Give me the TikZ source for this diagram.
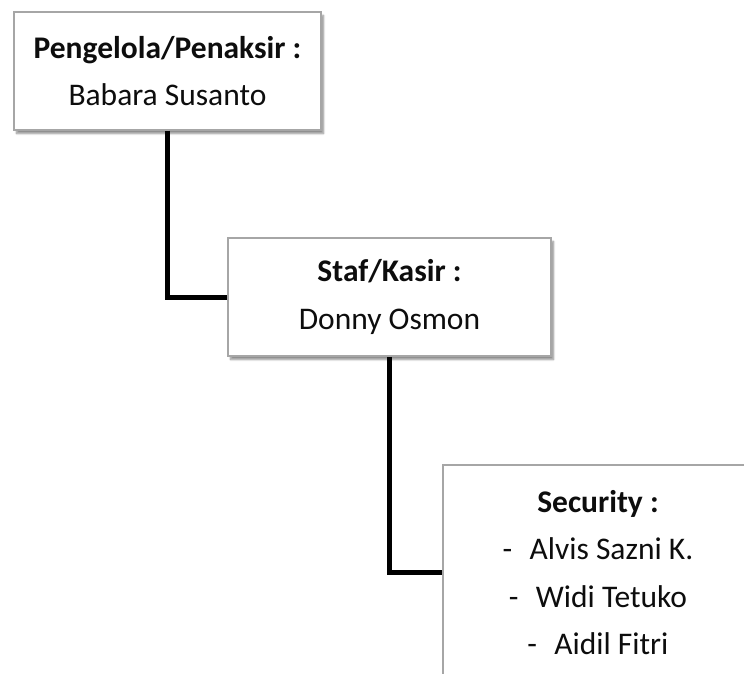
\documentclass[tikz,border=0pt]{standalone}
\usepackage{fontspec}
\setmainfont{Carlito}
\usetikzlibrary{positioning,shadows.blur}
\definecolor{frame}{HTML}{A6A6A6}
\definecolor{ink}{HTML}{0D0D0D}

\begin{document}
\begin{tikzpicture}[x=1pt,y=-1pt,
    box/.style={draw=frame, line width=1.5pt, fill=white, text=ink, align=center,
        inner sep=0pt, font=\fontsize{31.5}{47.5}\selectfont,
        blur shadow={shadow xshift=2.5pt, shadow yshift=-3.5pt, shadow blur steps=6, shadow opacity=45}},
    link/.style={line width=5pt, black}]
    \useasboundingbox (0,0) rectangle (744,674);
    \clip (0,0) rectangle (744,674);

    % Boxes
    \node[box, minimum width=307pt, minimum height=118pt] (penaksir) at (167.5,71)
        {\textbf{Pengelola/Penaksir :}\\Babara Susanto};
    \node[box, minimum width=323pt, minimum height=118pt] (kasir) at (389.5,297)
        {\textbf{Staf/Kasir :}\\Donny Osmon};
    \node[box, minimum width=310pt, minimum height=215pt] (security) at (598,572.5)
        {\textbf{Security :}\\-\hspace{0.55em}Alvis Sazni K.\\-\hspace{0.55em}Widi Tetuko\\-\hspace{0.55em}Aidil Fitri};

    % Links
    \draw[link] (penaksir.south) |- (kasir.west);
    \draw[link] (kasir.south) |- (security.west);

\end{tikzpicture}
\end{document}
